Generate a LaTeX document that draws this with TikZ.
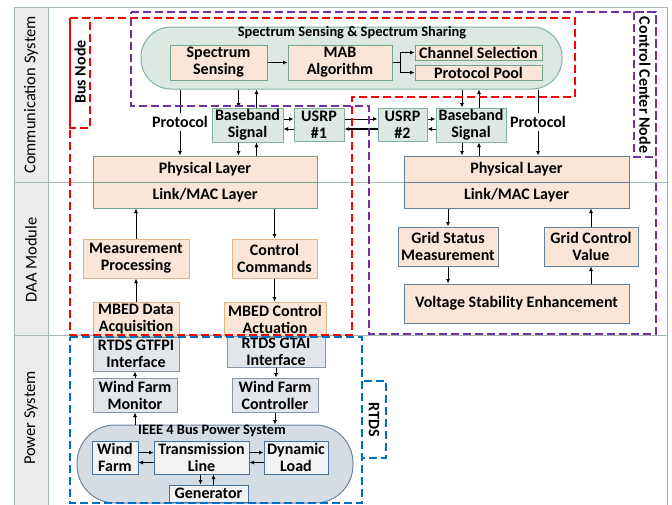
\documentclass[tikz,border=0pt]{standalone}
\usepackage{fontspec}
\setmainfont{Carlito}
\usetikzlibrary{arrows.meta,calc}

\definecolor{framegray}{RGB}{166,186,178}
\definecolor{colfill}{RGB}{236,236,236}
\definecolor{peach}{RGB}{251,229,214}
\definecolor{tealfill}{RGB}{221,232,227}
\definecolor{tealline}{RGB}{130,176,158}
\definecolor{greenline}{RGB}{110,165,140}
\definecolor{tanline}{RGB}{222,180,130}
\definecolor{slateline}{RGB}{100,128,155}
\definecolor{grayfill}{RGB}{226,229,234}
\definecolor{grayline}{RGB}{135,150,168}
\definecolor{ieeefill}{RGB}{214,220,228}
\definecolor{ieeeline}{RGB}{110,134,160}
\definecolor{lightfill}{RGB}{242,242,242}
\definecolor{blueline}{RGB}{70,114,160}
\definecolor{busred}{RGB}{255,0,0}
\definecolor{ccpurple}{RGB}{112,48,160}
\definecolor{rtdsblue}{RGB}{0,112,192}

\begin{document}
\begin{tikzpicture}[x=1pt, y=-1pt,
    font=\fontsize{16}{17}\selectfont\bfseries,
    box/.style={draw, line width=1pt, inner sep=0pt, align=center},
    commbox/.style={box, fill=peach, draw=greenline},
    linkbox/.style={box, fill=tealfill, draw=tealline},
    daabox/.style={box, fill=peach, draw=tanline},
    ccbox/.style={box, fill=peach, draw=slateline},
    rtdsbox/.style={box, fill=grayfill, draw=grayline},
    gridbox/.style={box, fill=lightfill, draw=blueline},
    title/.style={font=\fontsize{14.4}{16}\selectfont\bfseries},
    rowlabel/.style={rotate=90, font=\fontsize{16.5}{18}\selectfont},
    arr/.style={-{Latex[length=4.5pt,width=4pt]}, line width=0.8pt},
    region/.style={dash pattern=on 8pt off 4pt, line width=1.8pt}]
  \path[use as bounding box, clip] (0,0) rectangle (672,504);

  % frame with the three rows
  \fill[colfill] (14,7) rectangle (48,510);
  \draw[framegray, line width=1pt] (14,7) rectangle (667,510);
  \draw[framegray, line width=1pt] (48,7) -- (48,510);
  \draw[framegray, line width=1pt] (14,182) -- (667,182) (14,335) -- (667,335);
  \node[rowlabel] (comm) at (31,95) {Communication System};
  \node[rowlabel] (daa) at (31,260) {DAA Module};
  \node[rowlabel] (power) at (31,418) {Power System};

  % communication system
  \node[linkbox, rounded corners=30pt, minimum width=421, minimum height=62] (ss) at (351.5,58) {};
  \node[title] (sstitle) at (352,33) {Spectrum Sensing \& Spectrum Sharing};
  \node[commbox, minimum width=97, minimum height=35] (sens) at (218.5,62.5) {Spectrum\\Sensing};
  \node[commbox, minimum width=104, minimum height=35] (mab) at (340,62.5) {MAB\\Algorithm};
  \node[commbox, minimum width=127, minimum height=15] (chan) at (478.5,52.5) {Channel Selection};
  \node[commbox, minimum width=127, minimum height=15] (pool) at (478.5,72.5) {Protocol Pool};
  \node[linkbox, minimum width=71, minimum height=34] (bbl) at (247.5,125) {Baseband\\Signal};
  \node[linkbox, minimum width=50, minimum height=33] (usrpa) at (319,124.5) {USRP\\\#1};
  \node[linkbox, minimum width=49, minimum height=33] (usrpb) at (402.5,124.5) {USRP\\\#2};
  \node[linkbox, minimum width=70, minimum height=34] (bbr) at (471,125) {Baseband\\Signal};
  \node[commbox, minimum width=224, minimum height=26] (phyl) at (205,169) {Physical Layer};
  \node[commbox, minimum width=224, minimum height=26] (linkl) at (205,195) {Link/MAC Layer};
  \node[ccbox, minimum width=225, minimum height=26] (phyr) at (516.5,169) {Physical Layer};
  \node[ccbox, minimum width=225, minimum height=26] (linkr) at (516.5,195) {Link/MAC Layer};
  \node (protl) at (180,122) {Protocol};
  \node (protr) at (538,122) {Protocol};

  \draw[arr] (sens) -- (mab);
  \draw[arr] (mab.east) -- ++(8,0) coordinate (fork) |- (chan.west);
  \draw[arr] (fork) |- (pool.west);
  \draw (protl |- ss.south) -- (protl.north);
  \draw[arr] (protl.south) -- (protl |- phyl.north);
  \draw (protr |- ss.south) -- (protr.north);
  \draw[arr] (protr.south) -- (protr |- phyr.north);
  \draw[arr] ($(bbl.north |- ss.south)+(-9,0)$) -- ($(bbl.north)+(-9,0)$);
  \draw[arr] ($(bbl.north)+(9,0)$) -- ($(bbl.north |- ss.south)+(9,0)$);
  \draw[arr] ($(bbl.south)+(-9,0)$) -- ($(bbl.south |- phyl.north)+(-9,0)$);
  \draw[arr] ($(bbl.south |- phyl.north)+(9,0)$) -- ($(bbl.south)+(9,0)$);
  \draw[arr] ($(bbr.north |- ss.south)+(-9,0)$) -- ($(bbr.north)+(-9,0)$);
  \draw[arr] ($(bbr.north)+(8,0)$) -- ($(bbr.north |- ss.south)+(8,0)$);
  \draw[arr] ($(bbr.south)+(-9,0)$) -- ($(bbr.south |- phyr.north)+(-9,0)$);
  \draw[arr] ($(bbr.south |- phyr.north)+(8,0)$) -- ($(bbr.south)+(8,0)$);
  \draw[arr] ($(bbl.east)+(0,-6)$) -- ($(usrpa.west |- bbl.east)+(0,-6)$);
  \draw[arr] ($(usrpa.west |- bbl.east)+(0,4)$) -- ($(bbl.east)+(0,4)$);
  \draw[arr] ($(usrpa.east |- bbl.east)+(0,-6)$) -- ($(usrpb.west |- bbl.east)+(0,-6)$);
  \draw[arr, line width=1.3pt] ($(usrpb.west |- bbl.east)+(0,4)$) -- ($(usrpa.east |- bbl.east)+(0,4)$);
  \draw[arr] ($(usrpb.east |- bbl.east)+(0,-6)$) -- ($(bbr.west)+(0,-6)$);
  \draw[arr] ($(bbr.west)+(0,4)$) -- ($(usrpb.east |- bbl.east)+(0,4)$);

  % DAA module
  \node[daabox, minimum width=106, minimum height=39] (meas) at (136,258.5) {Measurement\\Processing};
  \node[daabox, minimum width=85, minimum height=39] (cmd) at (274.5,258.5) {Control\\Commands};
  \node[daabox, minimum width=86, minimum height=34] (mbedl) at (136,319) {MBED Data\\Acquisition};
  \node[daabox, minimum width=102, minimum height=34] (mbedr) at (275,319) {MBED Control\\Actuation};
  \node[ccbox, minimum width=100, minimum height=39] (gsm) at (448,246.5) {Grid Status\\Measurement};
  \node[ccbox, minimum width=94, minimum height=39] (gcv) at (591,246.5) {Grid Control\\Value};
  \node[ccbox, minimum width=225, minimum height=39] (vse) at (516.5,303.5) {Voltage Stability Enhancement};

  \draw[arr] (meas.north) -- (meas.north |- linkl.south);
  \draw[arr] (mbedl.north) -- (mbedl.north |- meas.south);
  \draw[arr] (linkl.south -| cmd.north) -- (cmd.north);
  \draw[arr] (cmd.south) -- (cmd.south |- mbedr.north);
  \draw[arr] (linkr.south -| gsm.north) -- (gsm.north);
  \draw[arr] (gsm.south) -- (gsm.south |- vse.north);
  \draw[arr] (vse.north -| gcv.south) -- (gcv.south);
  \draw[arr] (gcv.north) -- (gcv.north |- linkr.south);

  % power system
  \node[rtdsbox, minimum width=86, minimum height=34] (gtfpi) at (136,354) {RTDS GTFPI\\Interface};
  \node[rtdsbox, minimum width=98, minimum height=31] (gtai) at (276,351.5) {RTDS GTAI\\Interface};
  \node[rtdsbox, minimum width=84, minimum height=34] (wfm) at (135,395) {Wind Farm\\Monitor};
  \node[rtdsbox, minimum width=86, minimum height=34] (wfc) at (275,395) {Wind Farm\\Controller};
  \node[box, fill=ieeefill, draw=ieeeline, rounded corners=38pt, minimum width=276, minimum height=78] (ieee) at (215,464) {};
  \node[title] (ieeetitle) at (212,431) {IEEE 4 Bus Power System};
  \node[gridbox, minimum width=46, minimum height=33] (wf) at (115,457.5) {Wind\\Farm};
  \node[gridbox, minimum width=95, minimum height=33] (tl) at (201.5,457.5) {Transmission\\Line};
  \node[gridbox, minimum width=64, minimum height=33] (dl) at (296,457.5) {Dynamic\\Load};
  \node[gridbox, minimum width=79, minimum height=17] (gen) at (208.5,493.5) {Generator};

  \draw[arr] (wfm.north) -- (wfm.north |- gtfpi.south);
  \draw[arr] (gtai.south) -- (gtai.south |- wfc.north);
  \draw[arr] (wfm.south |- ieee.north) -- (wfm.south);
  \draw[arr] (wfc.south) -- (wfc.south |- ieee.north);
  \draw[arr] ($(wf.east)+(0,-5)$) -- ($(tl.west)+(0,-5)$);
  \draw[arr] ($(tl.west)+(0,5)$) -- ($(wf.east)+(0,5)$);
  \draw[arr] ($(tl.east)+(0,-5)$) -- ($(dl.west)+(0,-5)$);
  \draw[arr] ($(dl.west)+(0,5)$) -- ($(tl.east)+(0,5)$);
  \draw[arr] ($(gen.north |- tl.south)+(-8,0)$) -- ($(gen.north)+(-8,0)$);
  \draw[arr] ($(gen.north)+(5,0)$) -- ($(gen.north |- tl.south)+(5,0)$);

  % node groups
  \draw[region, busred] (70,18) -- (575,18) -- (575,97) -- (352,97) -- (352,335) -- (70,335) -- cycle;
  \draw[region, busred] (70,18) rectangle (90,128);
  \node[rotate=90] (busnode) at (80,72) {Bus Node};
  \draw[region, ccpurple] (131,12) -- (656,12) -- (656,334) -- (369,334) -- (369,106) -- (131,106) -- cycle;
  \draw[region, ccpurple] (634,12) rectangle (656,157);
  \node[rotate=-90] (ccnode) at (645,85) {Control Center Node};
  \draw[region, rtdsblue] (70,337) -- (362,337) -- (362,503) -- (70,503) -- cycle;
  \draw[region, rtdsblue] (362,381) rectangle (386,458);
  \node[rotate=-90] (rtds) at (374,420) {RTDS};
\end{tikzpicture}
\end{document}
